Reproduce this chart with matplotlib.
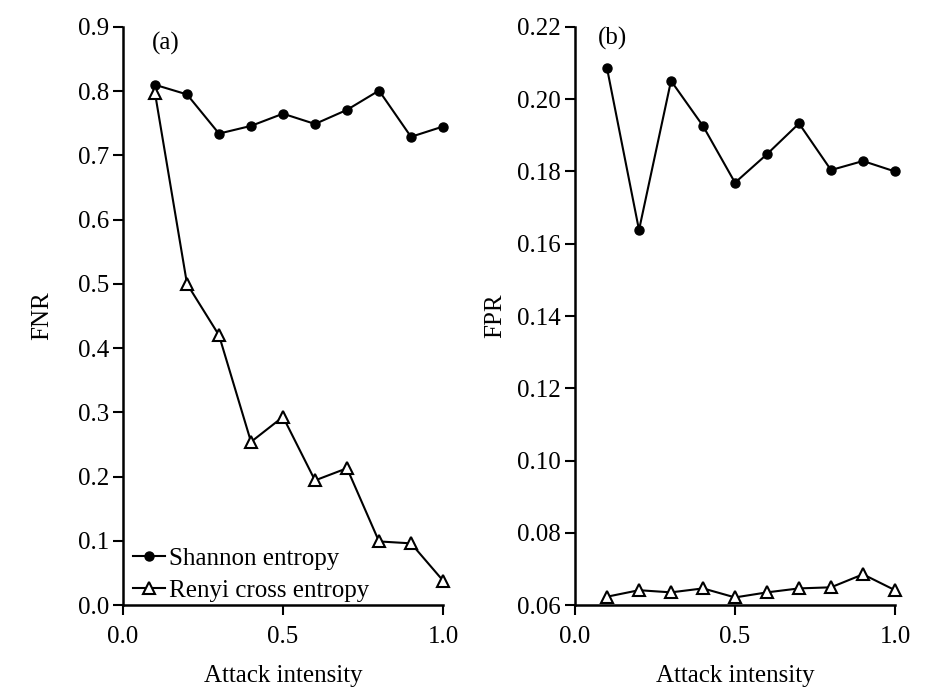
import matplotlib
matplotlib.use("Agg")
import matplotlib.pyplot as plt

plt.rcParams['font.family'] = ['Liberation Serif', 'DejaVu Serif']

attack = [0.1, 0.2, 0.3, 0.4, 0.5, 0.6, 0.7, 0.8, 0.9, 1.0]
fnr_shannon = [0.810, 0.795, 0.734, 0.746, 0.765, 0.749, 0.771, 0.801, 0.729, 0.745]
fnr_renyi = [0.797, 0.500, 0.420, 0.254, 0.293, 0.194, 0.213, 0.099, 0.096, 0.038]
fpr_shannon = [0.2086, 0.1638, 0.2051, 0.1926, 0.1769, 0.1848, 0.1933, 0.1804, 0.1829, 0.1800]
fpr_renyi = [0.0623, 0.0641, 0.0635, 0.0646, 0.0621, 0.0635, 0.0646, 0.0649, 0.0685, 0.0641]

fnr_ticks = [0.0, 0.1, 0.2, 0.3, 0.4, 0.5, 0.6, 0.7, 0.8, 0.9]
fpr_ticks = [0.06, 0.08, 0.10, 0.12, 0.14, 0.16, 0.18, 0.20, 0.22]
x_ticks = [0.0, 0.5, 1.0]

FS = 18
fig = plt.figure(figsize=(9.27, 6.92), dpi=100)
axA = fig.add_axes([0.1327, 0.1257, 0.3452, 0.8353])
axB = fig.add_axes([0.6203, 0.1257, 0.3452, 0.8353])

def style(ax):
    for s in ['top', 'right']:
        ax.spines[s].set_visible(False)
    for s in ['left', 'bottom']:
        ax.spines[s].set_linewidth(1.8)
    ax.tick_params(direction='out', length=7, width=1.5, labelsize=FS, pad=3)
    ax.tick_params(axis='x', pad=8)
    ax.set_xlim(0, 1.0)
    ax.set_xticks(x_ticks)
    ax.set_xticklabels(['0.0', '0.5', '1.0'])
    ax.set_xlabel('Attack intensity', fontsize=FS, labelpad=12)

line_kw = dict(color='black', linewidth=1.5, clip_on=False, zorder=3)
axA.plot(attack, fnr_shannon, marker='o', markersize=6.5, label='Shannon entropy', **line_kw)
axA.plot(attack, fnr_renyi, marker='^', markersize=9, markerfacecolor='white',
         markeredgecolor='black', markeredgewidth=1.5, label='Renyi cross entropy', **line_kw)
axA.set_ylim(0, 0.9)
axA.set_yticks(fnr_ticks)
axA.set_yticklabels([f'{v:.1f}' for v in fnr_ticks])
axA.set_ylabel('FNR', fontsize=FS, labelpad=18)
style(axA)
axA.text(0.09, 0.972, '(a)', transform=axA.transAxes, fontsize=FS, va='center')
leg = axA.legend(loc='lower left', bbox_to_anchor=(-0.025, -0.025), frameon=False, fontsize=FS,
                 handlelength=1.3, handletextpad=0.15, labelspacing=0.38, borderpad=0.2)

axB.plot(attack, fpr_shannon, marker='o', markersize=6.5, **line_kw)
axB.plot(attack, fpr_renyi, marker='^', markersize=9, markerfacecolor='white',
         markeredgecolor='black', markeredgewidth=1.5, **line_kw)
axB.set_ylim(0.06, 0.22)
axB.set_yticks(fpr_ticks)
axB.set_yticklabels([f'{v:.2f}' for v in fpr_ticks])
axB.set_ylabel('FPR', fontsize=FS, labelpad=8)
style(axB)
axB.text(0.07, 0.98, '(b)', transform=axB.transAxes, fontsize=FS, va='center')

fig.savefig('out.png', dpi=100)
